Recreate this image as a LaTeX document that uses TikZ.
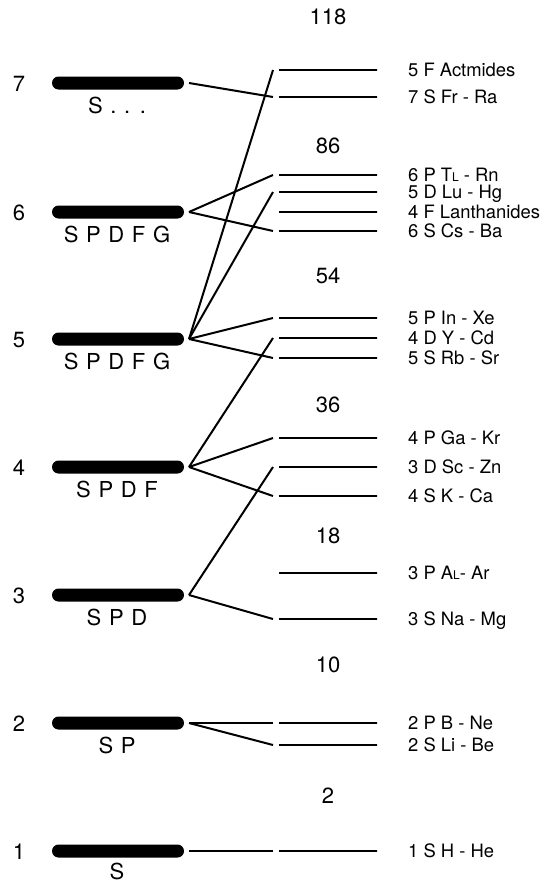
\documentclass[tikz,border=0pt]{standalone}
\usepackage{fontspec}
\setmainfont{TeX Gyre Heros}
\newfontfamily\orbfont[WordSpace=1.25]{TeX Gyre Heros}
\newcommand{\smallL}{{\fontsize{12}{12}\selectfont L}}
\begin{document}
\begin{tikzpicture}[x=1pt,y=-1pt,
  bar/.style={rectangle,rounded corners=6.5pt,fill=black,minimum width=132pt,minimum height=13pt,inner sep=0pt,outer xsep=5pt,outer ysep=0pt},
  sub/.style={rectangle,draw=black,line width=2pt,minimum width=98pt,minimum height=0pt,inner sep=0pt,outer xsep=6pt,outer ysep=0pt},
  conn/.style={line width=2pt},
  lab/.style={anchor=base west,font=\fontsize{18.4}{18.4}\selectfont,inner sep=0pt},
  num/.style={anchor=base,font=\fontsize{22}{22}\selectfont,inner sep=0pt},
  shell/.style={anchor=base,font=\fontsize{22}{22}\selectfont,inner sep=0pt},
  orb/.style={anchor=base,font=\orbfont\fontsize{22}{22}\selectfont,inner sep=0pt}]
\useasboundingbox (0,0) rectangle (553,883);
% shells
\foreach \n/\y/\t/\d in {7/83/{S . . .}/30,6/212/{S P D F G}/30,5/339/{S P D F G}/30,4/467/{S P D F}/30,3/595/{S P D}/30,2/723/{S P}/30,1/851/{S}/28.5}{
  \node[bar] (L\n) at (118,\y) {};
  \node[shell] (N\n) at (19,\y+8) {\n};
  \node[orb] (O\n) at (117,\y+\d) {\t};
}
% subshell lines and labels
\foreach \k/\y/\t in {5F/70/{5 F Actmides},7S/97/{7 S Fr - Ra},6P/175/{6 P T\smallL{} - Rn},5D/192/{5 D Lu - Hg},4F/212/{4 F Lanthanides},6S/231/{6 S Cs - Ba},5P/318/{5 P In - Xe},4D/338/{4 D Y - Cd},5S/358/{5 S Rb - Sr},4P/438/{4 P Ga - Kr},3D/467/{3 D Sc - Zn},4S/496/{4 S K - Ca},3P/573/{3 P A\smallL- Ar},3S/619/{3 S Na - Mg},2P/723/{2 P B - Ne},2S/745/{2 S Li - Be},1S/851/{1 S H - He}}{
  \node[sub] (s\k) at (328,\y) {};
  \node[lab] (t\k) at (408,\y+6.5) {\t};
}
% totals
\foreach \v/\y in {118/25,86/153,54/283,36/412,18/543,10/672,2/803}{
  \node[num] (c\v) at (328,\y) {\v};
}
% connectors
\draw[conn] (L7.east) -- (s7S.west);
\draw[conn] (L6.east) -- (s6P.west);
\draw[conn] (L6.east) -- (s6S.west);
\draw[conn] (L5.east) -- (s5F.west);
\draw[conn] (L5.east) -- (s5D.west);
\draw[conn] (L5.east) -- (s5P.west);
\draw[conn] (L5.east) -- (s5S.west);
\draw[conn] (L4.east) -- (s4D.west);
\draw[conn] (L4.east) -- (s4P.west);
\draw[conn] (L4.east) -- (s4S.west);
\draw[conn] (L3.east) -- (s3D.west);
\draw[conn] (L3.east) -- (s3S.west);
\draw[conn] (L2.east) -- (s2P.west);
\draw[conn] (L2.east) -- (s2S.west);
\draw[conn] (L1.east) -- (s1S.west);
\end{tikzpicture}
\end{document}
